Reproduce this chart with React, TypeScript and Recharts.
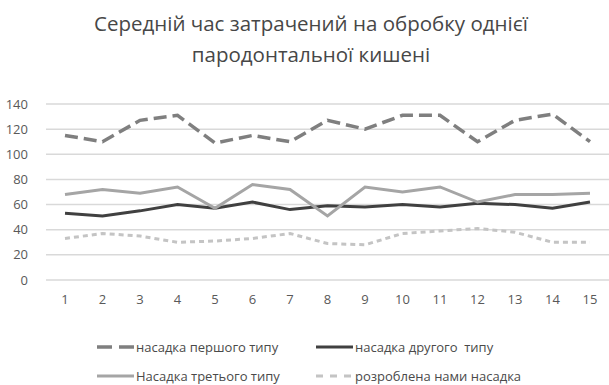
import { LineChart, Line, XAxis, YAxis, CartesianGrid } from 'recharts';

const days = ['1', '2', '3', '4', '5', '6', '7', '8', '9', '10', '11', '12', '13', '14', '15'];
const firstType = [115, 110, 127, 131, 109, 115, 110, 127, 120, 131, 131, 110, 127, 132, 110];
const secondType = [53, 51, 55, 60, 57, 62, 56, 59, 58, 60, 58, 61, 60, 57, 62];
const thirdType = [68, 72, 69, 74, 57, 76, 72, 51, 74, 70, 74, 62, 68, 68, 69];
const ourTip = [33, 37, 35, 30, 31, 33, 37, 29, 28, 37, 39, 41, 38, 30, 30];
const yTicks = [0, 20, 40, 60, 80, 100, 120, 140];

const series = [
  { key: 'first', label: 'насадка першого типу', values: firstType, color: '#7f7f7f', dash: '13 6', legendDash: '15 7', width: 3.5 },
  { key: 'second', label: 'насадка другого  типу', values: secondType, color: '#404040', dash: undefined, legendDash: undefined, width: 3 },
  { key: 'third', label: 'Насадка третього типу', values: thirdType, color: '#a5a5a5', dash: undefined, legendDash: undefined, width: 3 },
  { key: 'ours', label: 'розроблена нами насадка', values: ourTip, color: '#c4c4c4', dash: '5 4', legendDash: '7 7', width: 3 },
];

const data = days.map((d, i) => {
  const row: Record<string, string | number> = { day: d };
  series.forEach((s) => {
    row[s.key] = s.values[i];
  });
  return row;
});

const FONT = '"Open Sans", sans-serif';

function LegendItem({ s }: { s: (typeof series)[number] }) {
  return (
    <div style={{ display: 'flex', alignItems: 'center', whiteSpace: 'pre' }}>
      <svg width={37} height={10} style={{ marginRight: 2 }}>
        <line x1={0} y1={5} x2={37} y2={5} stroke={s.color} strokeWidth={s.width} strokeDasharray={s.legendDash} />
      </svg>
      <span>{s.label}</span>
    </div>
  );
}

export default function App() {
  return (
    <div style={{ position: 'relative', width: 609, height: 385, background: '#fff', fontFamily: FONT }}>
      <style>{`body{margin:0}`}</style>
      <div
        style={{
          position: 'absolute',
          top: 8,
          left: 0,
          width: 622,
          textAlign: 'center',
          fontSize: 20.5,
          lineHeight: '31px',
          color: '#474747',
        }}
      >
        Середній час затрачений на обробку однієї
        <br />
        пародонтальної кишені
      </div>

      <LineChart width={609} height={385} data={data} margin={{ top: 104, right: 0, bottom: 75, left: 0 }}>
        <CartesianGrid vertical={false} stroke="#d9d9d9" strokeWidth={1.5} />
        <XAxis
          dataKey="day"
          axisLine={false}
          tickLine={false}
          height={30}
          tickMargin={9}
          padding={{ left: 19, right: 19 }}
          tick={{ fill: '#595959', fontSize: 13, fontFamily: FONT }}
        />
        <YAxis
          width={46}
          domain={[0, 140]}
          ticks={yTicks}
          axisLine={false}
          tickLine={false}
          tickMargin={12}
          tick={{ fill: '#595959', fontSize: 13, fontFamily: FONT }}
        />
        {series.map((s) => (
          <Line
            key={s.key}
            type="linear"
            dataKey={s.key}
            stroke={s.color}
            strokeWidth={s.width}
            strokeDasharray={s.dash}
            dot={false}
            activeDot={false}
            isAnimationActive={false}
          />
        ))}
      </LineChart>

      <div
        style={{
          position: 'absolute',
          top: 338,
          left: 97,
          display: 'grid',
          gridTemplateColumns: '219px auto',
          rowGap: 11,
          fontSize: 13,
          color: '#4a4a4a',
        }}
      >
        {series.map((s) => (
          <LegendItem key={s.key} s={s} />
        ))}
      </div>
    </div>
  );
}
